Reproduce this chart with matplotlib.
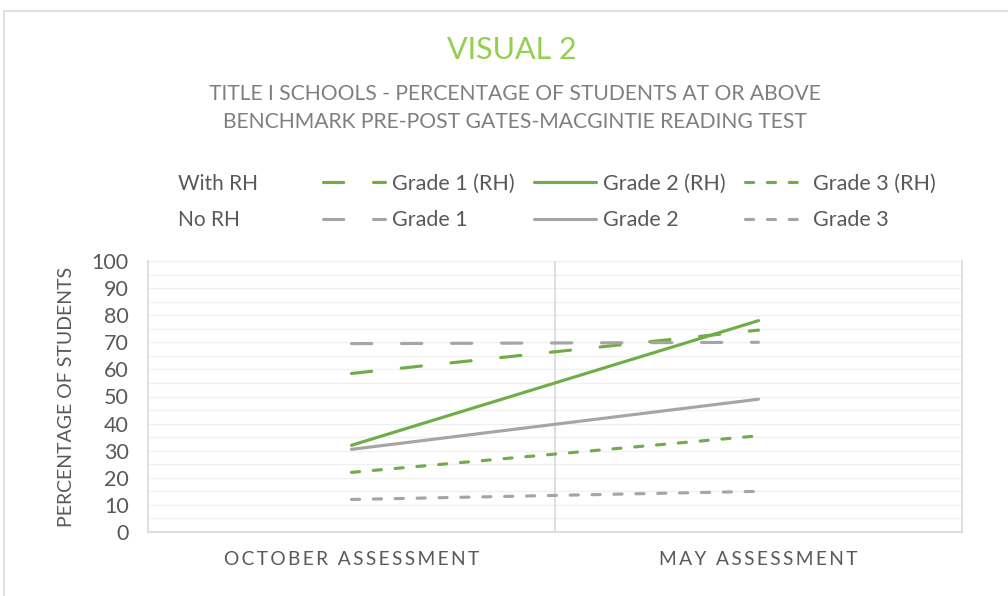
import matplotlib.pyplot as plt
from matplotlib.patches import Rectangle
import numpy as np

plt.rcParams['font.family'] = ['Lato', 'DejaVu Sans']

categories = ['OCTOBER ASSESSMENT', 'MAY ASSESSMENT']
series_names = ['Grade 1 (RH)', 'Grade 1', 'Grade 2 (RH)', 'Grade 2', 'Grade 3 (RH)', 'Grade 3']
grade1_rh = [58.5, 74.5]
grade1 = [69.5, 70]
grade2_rh = [32, 78]
grade2 = [30.5, 49]
grade3_rh = [22, 35.5]
grade3 = [12, 15]
values = [grade1_rh, grade1, grade2_rh, grade2, grade3_rh, grade3]

green = '#70AD47'
grey = '#A5A5A5'
colors = [green, grey, green, grey, green, grey]
long_dash = (6.5, 9.5)
short_dash = (2.6, 4.4)
dashes = [long_dash, long_dash, None, None, short_dash, short_dash]

fig = plt.figure(figsize=(10.08, 5.96), dpi=100)
ax = fig.add_axes([148 / 1008, 1 - 532 / 596, 814 / 1008, 271 / 596])

x = np.arange(len(categories))
for name, vals, c, d in zip(series_names, values, colors, dashes):
    line, = ax.plot(x, vals, color=c, lw=2.25, label=name,
                    solid_capstyle='round', dash_capstyle='round')
    if d is not None:
        line.set_dashes(d)

ax.set_xlim(-0.5, 1.5)
ax.set_ylim(0, 100)
ax.set_yticks(np.arange(0, 101, 10))
ax.set_yticks(np.arange(0, 101, 5), minor=True)
ax.grid(axis='y', which='both', color='#F0F0F0', lw=1)
ax.axvline(0.5, color='#D9D9D9', lw=1.2, zorder=1)
ax.set_axisbelow(True)

# letter-spaced category labels
spaced = ['\u2009'.join(c) for c in categories]
ax.set_xticks(x, spaced)
ax.tick_params(axis='x', length=0, pad=14, labelsize=13.8, labelcolor='#595959')
ax.tick_params(axis='y', which='both', length=0, pad=14, labelsize=15.5, labelcolor='#595959')

for side in ['left', 'right', 'bottom']:
    ax.spines[side].set_color('#D9D9D9')
    ax.spines[side].set_linewidth(1.2)
ax.spines['top'].set_visible(False)

ax.set_ylabel('PERCENTAGE OF STUDENTS', fontsize=14, color='#595959', labelpad=12)

fig.text(0.508, 1 - 50 / 596, 'VISUAL 2', ha='center', va='center',
         fontsize=22, color='#92D050')
fig.text(0.511, 1 - 108 / 596,
         'TITLE I SCHOOLS - PERCENTAGE OF STUDENTS AT OR ABOVE\nBENCHMARK PRE-POST GATES-MACGINTIE READING TEST',
         ha='center', va='center', fontsize=15.2, color='#7F7F7F', linespacing=1.55)

# row labels for the two legend rows
fig.text(178 / 1008, 1 - 184 / 596, 'With RH', ha='left', va='center', fontsize=15, color='#595959')
fig.text(178 / 1008, 1 - 220 / 596, 'No RH', ha='left', va='center', fontsize=15, color='#595959')

leg = ax.legend(ncol=3, loc='center left', bbox_to_anchor=(312 / 1008, 1 - 202 / 596),
                bbox_transform=fig.transFigure, frameon=False, fontsize=15.5,
                handlelength=2.9, handletextpad=0.3, columnspacing=0.9,
                labelspacing=0.75, borderpad=0)
for t in leg.get_texts():
    t.set_color('#595959')

# outer chart frame
fig.add_artist(Rectangle((4 / 1008, -0.1), 1.2, 0.1 + 1 - 11 / 596, transform=fig.transFigure,
                         fill=False, edgecolor='#D9D9D9', lw=1.2))

fig.savefig('out.png', dpi=100)
